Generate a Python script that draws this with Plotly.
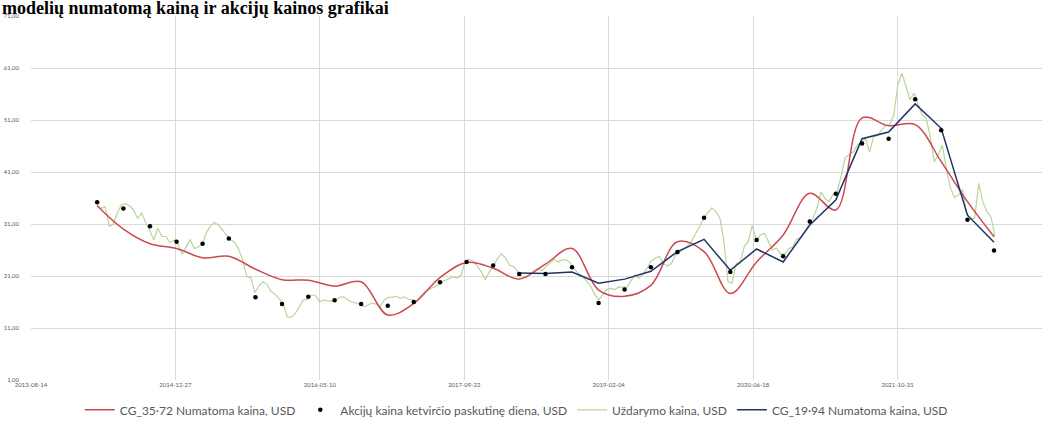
import plotly.graph_objects as go
import pandas as pd

# ---------------- data ----------------
quarter_dates = [f"{y}-{md}" for y in range(2014, 2023)
                 for md in ("03-31", "06-30", "09-30", "12-31")][:35]

# CG_35-72 model price (quarterly, smoothed line)
cg_35_72 = [34.5, 30.0, 27.2, 26.3, 24.5, 24.8, 22.3, 20.3, 20.2, 19.05,
            19.9, 13.5, 15.7, 20.7, 23.6, 22.5, 20.4, 23.3, 26.3, 18.3,
            17.1, 19.2, 27.6, 25.7, 17.65, 23.7, 28.9, 36.9, 33.7, 51.4,
            49.9, 50.1, 43.0, 35.3, 28.55]

# share price on the last day of each quarter
quarter_close = [35.2, 34.0, 30.56, 27.6, 27.2, 28.2, 16.9, 15.6, 17.0, 16.36,
                 15.6, 15.3, 16.0, 19.8, 23.7, 23.0, 21.4, 21.4, 22.7, 15.8,
                 18.4, 22.7, 25.6, 32.2, 21.75, 27.9, 24.8, 31.5, 36.8, 46.5,
                 47.4, 55.0, 49.05, 31.8, 25.9]

# CG_19-94 model price (quarterly, from 2018-03-31)
cg_19_94_dates = quarter_dates[16:]
cg_19_94 = [21.56, 21.5, 21.75, 19.6, 20.4, 21.9, 25.7, 28.05, 22.1, 26.2,
            23.7, 30.8, 35.6, 47.4, 48.7, 54.1, 49.4, 32.7, 27.5]

# closing price, sampled every two weeks from 2014-03-31
close = [34.6, 34.0, 34.3, 30.5, 31.0, 33.1, 34.7, 34.9, 34.5, 33.7,
         32.1, 33.1, 31.3, 29.8, 27.9, 30.2, 28.6, 28.6, 27.4, 27.9,
         27.1, 25.2, 26.6, 28.0, 26.3, 26.6, 27.1, 29.3, 30.6, 31.3,
         30.8, 29.8, 28.9, 27.9, 27.5, 26.1, 24.1, 20.9, 20.7, 17.8,
         19.1, 19.9, 19.4, 18.0, 17.5, 16.5, 15.7, 13.1, 13.1, 13.8,
         15.2, 16.4, 16.5, 17.3, 17.3, 16.0, 16.4, 16.2, 16.2, 16.4,
         16.9, 17.0, 16.4, 16.0, 15.8, 15.6, 15.1, 15.4, 15.8, 15.6,
         15.2, 16.4, 16.9, 16.9, 17.1, 16.7, 17.0, 16.5, 16.4, 16.1,
         17.0, 18.0, 18.4, 18.7, 19.1, 19.8, 20.2, 20.5, 20.8, 20.6,
         21.2, 23.9, 24.2, 23.9, 22.9, 21.8, 20.3, 21.8, 22.9, 24.4,
         25.3, 24.4, 23.1, 22.8, 21.9, 20.9, 20.6, 21.4, 22.0, 22.5,
         22.0, 22.8, 23.6, 24.2, 23.7, 24.1, 24.1, 23.5, 22.3, 21.5,
         21.0, 20.1, 19.1, 17.5, 16.4, 17.3, 18.4, 18.6, 18.4, 18.9,
         18.9, 18.8, 20.1, 21.2, 20.6, 21.4, 22.5, 23.9, 24.4, 24.8,
         23.4, 22.9, 23.4, 25.0, 25.5, 26.1, 26.8, 27.7, 29.2, 30.8,
         32.0, 33.2, 34.1, 33.4, 32.1, 27.6, 19.9, 19.6, 23.4, 23.6,
         26.6, 27.6, 30.7, 27.9, 28.9, 29.2, 27.6, 26.0, 26.4, 25.2,
         25.2, 26.2, 26.6, 28.1, 28.4, 29.5, 31.0, 32.1, 34.0, 37.2,
         35.9, 35.3, 36.7, 37.2, 40.3, 43.8, 44.3, 44.9, 46.2, 46.7,
         47.4, 44.8, 47.8, 48.0, 49.1, 49.9, 50.1, 52.0, 57.8, 60.0,
         57.5, 54.9, 56.2, 54.1, 52.0, 51.4, 47.8, 43.0, 44.3, 46.2,
         41.4, 37.9, 36.1, 36.6, 37.6, 33.1, 32.0, 32.1, 38.8, 35.3,
         33.4, 32.4, 28.6]
close_dates = pd.date_range("2014-03-31", periods=len(close), freq="14D")

title_text = "modelių numatomą kainą ir akcijų kainos grafikai"
x_tick_start = "2013-08-14"
x_end = "2023-03-15"

# ---------------- figure ----------------
RED = "#cc4a4e"
GREEN = "#b8d59c"
NAVY = "#1f3366"
GRID = "#d9d9d9"
TXT = "#595959"

fig = go.Figure()
fig.add_trace(go.Scatter(
    x=close_dates, y=close, mode="lines", name="Uždarymo kaina, USD",
    line=dict(color=GREEN, width=1.2), legendrank=3))
fig.add_trace(go.Scatter(
    x=quarter_dates, y=cg_35_72, mode="lines", name="CG_35·72 Numatoma kaina, USD",
    line=dict(color=RED, width=1.5, shape="spline", smoothing=1.0), legendrank=1))
fig.add_trace(go.Scatter(
    x=cg_19_94_dates, y=cg_19_94, mode="lines", name="CG_19·94 Numatoma kaina, USD",
    line=dict(color=NAVY, width=1.5), legendrank=4))
fig.add_trace(go.Scatter(
    x=quarter_dates, y=quarter_close, mode="markers",
    name="Akcijų kaina ketvirčio paskutinę diena, USD",
    marker=dict(color="black", size=4.5), legendrank=2))

fig.update_layout(
    width=1053, height=424,
    margin=dict(l=31, r=11, t=16, b=44, autoexpand=False),
    paper_bgcolor="white", plot_bgcolor="white",
    separators=", ",
    font=dict(family="Lato", color=TXT),
    showlegend=True,
    legend=dict(orientation="h", x=0.48, xanchor="center", y=-0.082, yanchor="middle",
                font=dict(size=12, family="Lato", color=TXT), bgcolor="rgba(0,0,0,0)"),
    annotations=[dict(text="<b>" + title_text + "</b>", xref="paper", yref="paper",
                      x=-31 / 1011, y=1, xanchor="left", yanchor="bottom", yshift=-4,
                      showarrow=False,
                      font=dict(family="Liberation Serif", size=18, color="black"))],
)
fig.update_xaxes(
    type="date", range=[x_tick_start, x_end], tick0=x_tick_start,
    dtick=500 * 86400000, tickformat="%Y-%m-%d", automargin=False,
    showgrid=True, gridcolor=GRID, gridwidth=1, zeroline=False, showline=False,
    ticks="", tickfont=dict(size=6, color=TXT, family="Lato"))
fig.update_yaxes(
    range=[1, 71], tick0=1, dtick=10, tickformat=".2f", automargin=False,
    showgrid=True, gridcolor=GRID, gridwidth=1, zeroline=False, showline=False,
    ticks="", ticklabelstandoff=11, tickfont=dict(size=6, color=TXT, family="Lato"))

fig.write_html("out.html")
